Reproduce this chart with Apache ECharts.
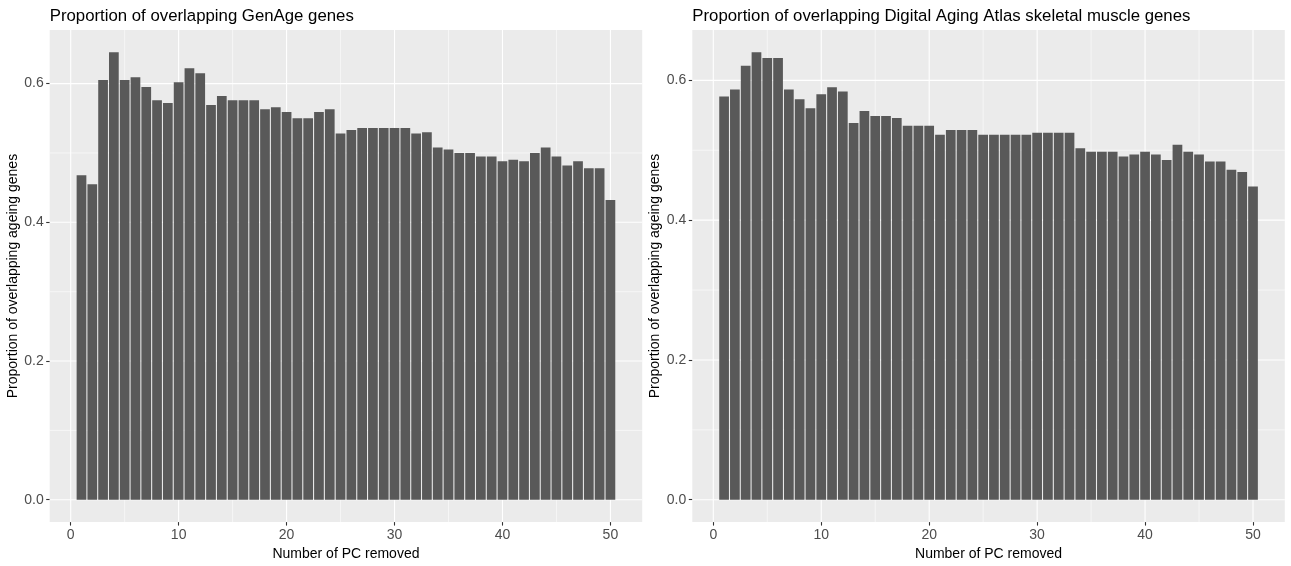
<!DOCTYPE html>
<html>
<head>
<meta charset="utf-8">
<script src="https://cdn.jsdelivr.net/npm/echarts@6/dist/echarts.min.js"></script>
<style>
  html, body { margin: 0; padding: 0; background: #ffffff; }
  #chart { width: 1291px; height: 566px; }
</style>
</head>
<body>
<div id="chart"></div>
<script>
// Number of principal components removed (1..50)
const pcRemoved = [
  1, 2, 3, 4, 5, 6, 7, 8, 9, 10,
  11, 12, 13, 14, 15, 16, 17, 18, 19, 20,
  21, 22, 23, 24, 25, 26, 27, 28, 29, 30,
  31, 32, 33, 34, 35, 36, 37, 38, 39, 40,
  41, 42, 43, 44, 45, 46, 47, 48, 49, 50
];

// Proportion of overlapping GenAge genes
const genAgeOverlap = [
  0.468, 0.455, 0.605, 0.645, 0.605, 0.609, 0.595, 0.576, 0.572, 0.602,
  0.622, 0.615, 0.569, 0.582, 0.576, 0.576, 0.576, 0.563, 0.566, 0.559,
  0.550, 0.550, 0.559, 0.563, 0.528, 0.533, 0.536, 0.536, 0.536, 0.536,
  0.536, 0.528, 0.530, 0.508, 0.505, 0.500, 0.500, 0.495, 0.495, 0.488,
  0.490, 0.488, 0.500, 0.508, 0.495, 0.482, 0.488, 0.478, 0.478, 0.432
];

// Proportion of overlapping Digital Aging Atlas skeletal muscle genes
const daaMuscleOverlap = [
  0.577, 0.587, 0.621, 0.640, 0.632, 0.632, 0.587, 0.573, 0.560, 0.580,
  0.590, 0.584, 0.539, 0.556, 0.549, 0.549, 0.546, 0.535, 0.535, 0.535,
  0.522, 0.529, 0.529, 0.529, 0.522, 0.522, 0.522, 0.522, 0.522, 0.525,
  0.525, 0.525, 0.525, 0.503, 0.498, 0.498, 0.498, 0.491, 0.494, 0.498,
  0.494, 0.486, 0.508, 0.498, 0.494, 0.484, 0.484, 0.472, 0.469, 0.448
];

// Axis breaks
const xBreaks = [0, 10, 20, 30, 40, 50];
const xMinorBreaks = [5, 15, 25, 35, 45];
const yBreaks = [0, 0.2, 0.4, 0.6];
const yMinorBreaks = [0.1, 0.3, 0.5];

const panelTitles = [
  'Proportion of overlapping GenAge genes',
  'Proportion of overlapping Digital Aging Atlas skeletal muscle genes'
];
const xTitle = 'Number of PC removed';
const yTitle = 'Proportion of overlapping ageing genes';

// ---- drawing ----
const FONT = '"Liberation Sans", Arial, Helvetica, sans-serif';
const BAR_HALF = 0.45;       // bars are 0.9 units wide
const BAR_FILL = '#595959';
const PANEL_BG = '#EBEBEB';

// ggplot-style 5% expansion of continuous scales
function expandRange(lo, hi) {
  const pad = (hi - lo) * 0.05;
  return [lo - pad, hi + pad];
}
const xRange = expandRange(pcRemoved[0] - BAR_HALF, pcRemoved[pcRemoved.length - 1] + BAR_HALF);

const panels = [
  { left: 49.7, values: genAgeOverlap },
  { left: 692.3, values: daaMuscleOverlap }
];
const PANEL_TOP = 30, PANEL_W = 592.5, PANEL_H = 497;

const grids = [], xAxes = [], yAxes = [], series = [], titles = [];

panels.forEach(function (p, i) {
  const yRange = expandRange(0, Math.max.apply(null, p.values));
  grids.push({
    left: p.left, top: PANEL_TOP, width: PANEL_W, height: PANEL_H,
    show: true, backgroundColor: PANEL_BG, borderWidth: 0, containLabel: false
  });
  titles.push({
    text: panelTitles[i], left: p.left, top: 7.5, padding: 0,
    textStyle: { fontFamily: FONT, fontSize: 16.8, fontWeight: 'normal', color: '#000' }
  });
  xAxes.push({
    type: 'value', gridIndex: i, min: xRange[0], max: xRange[1],
    name: xTitle, nameLocation: 'middle', nameGap: 20,
    nameTextStyle: { fontFamily: FONT, fontSize: 14, color: '#000' },
    axisLine: { show: false, onZero: false },
    axisTick: { show: true, length: 3.5, customValues: xBreaks, lineStyle: { color: '#333333', width: 1.1 } },
    axisLabel: { show: true, margin: 6, customValues: xBreaks, fontFamily: FONT, fontSize: 14, color: '#4D4D4D',
                 formatter: function (v) { return String(v); } },
    splitLine: { show: false }
  });
  yAxes.push({
    type: 'value', gridIndex: i, min: yRange[0], max: yRange[1],
    name: yTitle, nameLocation: 'middle', nameGap: 30, nameRotate: 90,
    nameTextStyle: { fontFamily: FONT, fontSize: 14, color: '#000' },
    axisLine: { show: false, onZero: false },
    axisTick: { show: true, length: 3.5, customValues: yBreaks, lineStyle: { color: '#333333', width: 1.1 } },
    axisLabel: { show: true, margin: 6, customValues: yBreaks, fontFamily: FONT, fontSize: 14, color: '#4D4D4D',
                 formatter: function (v) { return v.toFixed(1); } },
    splitLine: { show: false }
  });

  // white panel grid: [value, orientation (0 = vertical, 1 = horizontal), major flag]
  const gridData = [];
  xMinorBreaks.forEach(function (v) { gridData.push([v, 0, 0]); });
  yMinorBreaks.forEach(function (v) { gridData.push([v, 1, 0]); });
  xBreaks.forEach(function (v) { gridData.push([v, 0, 1]); });
  yBreaks.forEach(function (v) { gridData.push([v, 1, 1]); });
  series.push({
    type: 'custom', xAxisIndex: i, yAxisIndex: i, z: 1, silent: true, animation: false,
    data: gridData,
    renderItem: function (params, api) {
      const v = api.value(0), horiz = api.value(1) === 1, major = api.value(2) === 1;
      const a = horiz ? api.coord([xRange[0], v]) : api.coord([v, yRange[0]]);
      const b = horiz ? api.coord([xRange[1], v]) : api.coord([v, yRange[1]]);
      return {
        type: 'line',
        shape: { x1: a[0], y1: a[1], x2: b[0], y2: b[1] },
        style: { stroke: '#FFFFFF', lineWidth: major ? 1.1 : 0.55 }
      };
    }
  });

  // bars
  series.push({
    type: 'custom', xAxisIndex: i, yAxisIndex: i, z: 2, silent: true, animation: false,
    data: pcRemoved.map(function (x, k) { return [x, p.values[k]]; }),
    renderItem: function (params, api) {
      const x = api.value(0), y = api.value(1);
      const tl = api.coord([x - BAR_HALF, y]);
      const br = api.coord([x + BAR_HALF, 0]);
      return {
        type: 'rect',
        shape: { x: tl[0], y: tl[1], width: br[0] - tl[0], height: br[1] - tl[1] },
        style: { fill: BAR_FILL }
      };
    }
  });
});

const chart = echarts.init(document.getElementById('chart'), null, { renderer: 'canvas' });
chart.setOption({
  backgroundColor: '#FFFFFF',
  animation: false,
  title: titles,
  grid: grids,
  xAxis: xAxes,
  yAxis: yAxes,
  tooltip: { show: false },
  series: series
});
</script>
</body>
</html>
